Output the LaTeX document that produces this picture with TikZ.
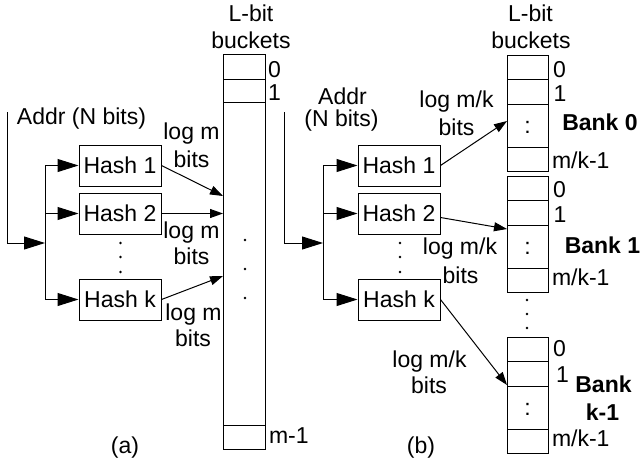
\documentclass[tikz,border=0pt]{standalone}
\usepackage{fontspec}
\setmainfont{Liberation Sans}
\usetikzlibrary{arrows.meta}
\begin{document}
\begin{tikzpicture}[x=1pt,y=-1pt, line width=1pt,
 lbl/.style={inner sep=0pt, text height=16.5pt, text depth=0pt, font=\fontsize{23}{27}\selectfont},
 blbl/.style={lbl, font=\fontsize{23}{27}\selectfont\bfseries},
 hashbox/.style={draw, minimum width=82pt, minimum height=41pt, inner sep=0pt, font=\fontsize{23}{27}\selectfont},
 big/.style={-{Triangle[length=21pt,width=13pt]}},
 small/.style={-{Triangle[length=13pt,width=9pt]}},
 pt/.style={circle, fill, inner sep=0pt, minimum size=2.8pt}
]
\useasboundingbox (0,0) rectangle (642,461);

% ===== (a) =====
\node[lbl] (lbitA) at (251,13) {L-bit};
\node[lbl] (bucketsA) at (251,40) {buckets};
\node[draw, minimum width=42.5pt, minimum height=394.5pt, inner sep=0pt] (colA) at (244.25,251.75) {};
\draw (223,79) -- (265.5,79);
\draw (223,102) -- (265.5,102);
\draw (223,425) -- (265.5,425);
\node[lbl, anchor=west] (a0) at (267.5,69.5) {0};
\node[lbl, anchor=west] (a1) at (267.5,92.5) {1};
\node[lbl, anchor=west] (am) at (268.5,435.5) {m-1};
\node[pt] (cd1) at (245,240) {};
\node[pt] (cd2) at (245,269) {};
\node[pt] (cd3) at (245,298) {};

\node[lbl] (addrAtxt) at (81.5,116.5) {Addr (N bits)};
\node[hashbox] (ha1) at (120,165.5) {Hash 1};
\node[hashbox] (ha2) at (120,213.5) {Hash 2};
\node[hashbox] (hak) at (120,299.5) {Hash k};
\node[pt] (hd1) at (120.5,243) {};
\node[pt] (hd2) at (120.5,257) {};
\node[pt] (hd3) at (120.5,272) {};

\coordinate (addrA) at (7,112);
\coordinate (splitA) at (45,243);
\coordinate (trA1) at (45,165.5);
\coordinate (trAk) at (45,299.5);
\draw[big] (addrA) |- (splitA);
\draw (trA1) -- (trAk);
\draw[big] (trA1) -- (ha1);
\draw[big] (trA1 |- ha2) -- (ha2);
\draw[big] (trAk) -- (hak);

\coordinate (tA1) at (223,196);
\coordinate (tA2) at (223,213.5);
\coordinate (tAk) at (223,276);
\draw[small] (ha1.east) -- (tA1);
\draw[small] (ha2.east) -- (tA2);
\draw[small] (hak.east) -- (tAk);

\node[lbl] (lmA1) at (191.5,131) {log m};
\node[lbl] (bA1) at (191.5,159.5) {bits};
\node[lbl] (lmA2) at (191.5,230) {log m};
\node[lbl] (bA2) at (191.5,256.5) {bits};
\node[lbl] (lmA3) at (193.5,312.5) {log m};
\node[lbl] (bA3) at (193,338.5) {bits};
\node[lbl] (capA) at (125,445) {(a)};

% ===== (b) =====
\node[lbl] (lbitB) at (530.5,13) {L-bit};
\node[lbl] (bucketsB) at (531,40) {buckets};

\foreach \T/\nm in {55/b0,176/b1,337/bk}{
  \node[draw, minimum width=41pt, minimum height=116pt, inner sep=0pt] (\nm) at (527.5,\T+58) {};
  \draw (507,\T+24.5) -- (548,\T+24.5);
  \draw (507,\T+49) -- (548,\T+49);
  \draw (507,\T+92) -- (548,\T+92);
  \node[lbl, anchor=base] at (527.5,\T+78) {:};
}
\node[lbl, anchor=west] (b00) at (552.5,69.5) {0};
\node[lbl, anchor=west] (b01) at (553,93) {1};
\node[lbl, anchor=west] (b0m) at (551.5,160) {m/k-1};
\node[lbl, anchor=west] (b10) at (552.5,189.5) {0};
\node[lbl, anchor=west] (b11) at (553,214.5) {1};
\node[lbl, anchor=west] (b1m) at (551.5,277.5) {m/k-1};
\node[lbl, anchor=west] (bk0) at (552.5,348) {0};
\node[lbl, anchor=west] (bk1) at (555.5,374.5) {1};
\node[lbl, anchor=west] (bkm) at (551.5,438) {m/k-1};

\node[blbl] (bank0) at (600,122.5) {Bank 0};
\node[blbl] (bank1) at (602.5,245.5) {Bank 1};
\node[blbl] (bankk) at (603.5,384.5) {Bank};
\node[blbl] (bankk2) at (602.5,412.5) {k-1};

\node[pt] (bd1) at (527,300) {};
\node[pt] (bd2) at (527,314) {};
\node[pt] (bd3) at (527,328) {};

\node[lbl] (addrB1) at (342.5,96.5) {Addr};
\node[lbl] (addrB2) at (341.5,118) {(N bits)};
\node[hashbox] (hb1) at (399,165.5) {Hash 1};
\node[hashbox] (hb2) at (399,213.5) {Hash 2};
\node[hashbox] (hbk) at (399,299.5) {Hash k};
\node[pt] (hbd1) at (400,243) {};
\node[pt] (hbd2) at (400,257) {};
\node[pt] (hbd3) at (400,272) {};

\coordinate (addrB) at (284,112);
\coordinate (splitB) at (323,243);
\coordinate (trB1) at (323,165.5);
\coordinate (trBk) at (323,299.5);
\draw[big] (addrB) |- (splitB);
\draw (trB1) -- (trBk);
\draw[big] (trB1) -- (hb1);
\draw[big] (trB1 |- hb2) -- (hb2);
\draw[big] (trBk) -- (hbk);

\coordinate (tB1) at (507,121);
\coordinate (tB2) at (507,229);
\coordinate (tBk) at (507,385);
\draw[small] (hb1.east) -- (tB1);
\draw[small] ([yshift=-4pt]hb2.east) -- (tB2);
\draw[small] (hbk.east) -- (tBk);

\node[lbl] (lmB1) at (456.5,99.5) {log m/k};
\node[lbl] (bB1) at (456.5,127.5) {bits};
\node[lbl] (lmB2) at (460,246.5) {log m/k};
\node[lbl] (bB2) at (460.5,275) {bits};
\node[lbl] (lmB3) at (429.5,359.5) {log m/k};
\node[lbl] (bB3) at (429,385.5) {bits};
\node[lbl] (capB) at (421,445.5) {(b)};
\end{tikzpicture}
\end{document}
